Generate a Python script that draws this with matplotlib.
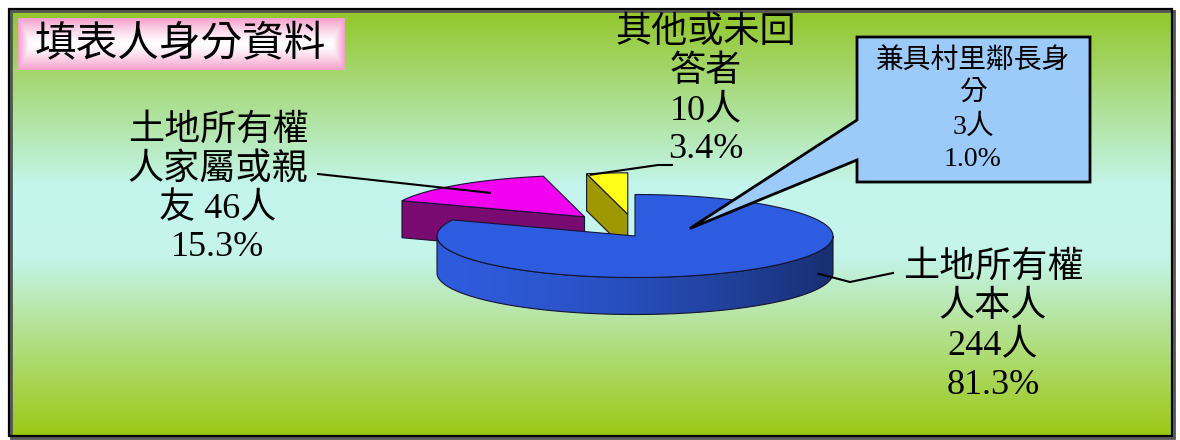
import numpy as np
import matplotlib.pyplot as plt
from matplotlib.patches import Polygon, Rectangle
from matplotlib.colors import to_rgb

# respondent identity
categories = ['土地所有權人本人', '土地所有權人家屬或親友', '其他或未回答者']
counts = [244, 46, 10]
pct_text = ['81.3%', '15.3%', '3.4%']
sub_name = '兼具村里鄰長身分'
sub_count = 3
sub_pct = '1.0%'

top_colors = ['#2E5CE0', '#F200F0', '#FFFF18']
side_colors = ['#2E5AD8', '#780A70', '#A09800']
explode = [0.0, 0.4, 0.35]

plt.rcParams['font.family'] = ['Liberation Serif', 'Noto Sans CJK TC']
plt.rcParams['font.weight'] = 'light'

fig = plt.figure(figsize=(11.8, 4.4), dpi=100)
ax = fig.add_axes([0, 0, 1, 1])
ax.set_xlim(0, 1180)
ax.set_ylim(440, 0)
ax.axis('off')


def vgrad(stops, n=300):
    t = np.linspace(0, 1, n)
    pos = [s[0] for s in stops]
    cols = np.array([to_rgb(s[1]) for s in stops])
    return np.stack([np.interp(t, pos, cols[:, k]) for k in range(3)], axis=-1)


# panel background
bg = vgrad([(0.0, '#92C628'), (0.42, '#C4F6EE'), (0.58, '#C4F4EA'), (1.0, '#9CC814')])
ax.imshow(bg[:, None, :], extent=(9, 1172, 436, 9), aspect='auto', zorder=0)
ax.add_patch(Rectangle((11, 11), 1163, 427, fill=False, ec='#555555', lw=2, zorder=1))
ax.add_patch(Rectangle((9, 9), 1163, 427, fill=False, ec='black', lw=1.6, zorder=1))

# title box with pink edges
ny, nx = 60, 340
yy = np.abs(np.linspace(-1, 1, ny))[:, None]
xx = np.abs(np.linspace(-1, 1, nx))[None, :]
w = np.clip(np.maximum(yy ** 1.3, (xx - 0.93) / 0.07), 0, 1)
pink = np.array(to_rgb('#F5A0CC'))
box = (1 - w[..., None]) * 1.0 + w[..., None] * pink
ax.imshow(box, extent=(18, 345, 70, 18), aspect='auto', zorder=1)
ax.text(180, 46, '填表人身分資料', fontsize=30, ha='center', va='center', zorder=5)

# 3D pie
CX, CY = 635, 236
RX, RY = 198, 41.5
DEPTH = 37
EC = '#141430'

fr = np.array(counts) / sum(counts)
ends = 90 - 360 * np.concatenate([[0], np.cumsum(fr)[:-1]])
starts = ends - 360 * fr


def pt(theta, c, r=1.0, dz=0.0):
    t = np.radians(theta)
    return c[0] + r * RX * np.cos(t), c[1] - r * RY * np.sin(t) + dz


def arc(a0, a1, c, dz=0.0, n=120):
    th = np.linspace(a0, a1, n)
    x, y = pt(th, c, dz=dz)
    return np.column_stack([x, y])


centers = []
for i in range(len(counts)):
    mid = np.radians((starts[i] + ends[i]) / 2)
    e = explode[i]
    centers.append((CX + e * RX * np.cos(mid), CY - 1.5 * e * RY * np.sin(mid)))

for i in reversed(range(len(counts))):
    a0, a1, c = starts[i], ends[i], centers[i]
    z = 10 + 3 * (len(counts) - 1 - i)
    # radial faces turned toward the viewer
    for a, vis in ((a0, np.cos(np.radians(a0)) > 1e-6), (a1, np.cos(np.radians(a1)) < -1e-6)):
        if vis:
            p = pt(a, c)
            quad = [c, p, (p[0], p[1] + DEPTH), (c[0], c[1] + DEPTH)]
            ax.add_patch(Polygon(quad, closed=True, fc=side_colors[i], ec=EC, lw=0.8, zorder=z))
    # outer rim, front half only
    for k in (-1, 0, 1):
        lo, hi = max(a0, -180 + 360 * k), min(a1, 360 * k)
        if hi - lo <= 0:
            continue
        top = arc(lo, hi, c)
        bot = arc(lo, hi, c, dz=DEPTH)[::-1]
        rim = Polygon(np.vstack([top, bot]), closed=True, fc='none', ec=EC, lw=0.8, zorder=z + 1)
        ax.add_patch(rim)
        base = np.array(to_rgb(side_colors[i]))
        t = np.linspace(0, 1, 200) ** 1.6
        shade = np.clip(base[None, :] * (1.02 - 0.5 * t[:, None]), 0, 1)
        x0, x1 = top[:, 0].min(), top[:, 0].max()
        im = ax.imshow(shade[None, :, :], extent=(x0, x1, c[1] + RY + DEPTH + 2, c[1] - RY),
                       aspect='auto', zorder=z)
        im.set_clip_path(rim)
    face = np.vstack([[c], arc(a0, a1, c)])
    ax.add_patch(Polygon(face, closed=True, fc=top_colors[i], ec=EC, lw=0.8, zorder=z + 2))

ax.set_xlim(0, 1180)
ax.set_ylim(440, 0)

# labels
FS = 26
LH = 39


def block(x, y0, lines, fs=FS, lh=LH):
    for j, s in enumerate(lines):
        ax.text(x, y0 + j * lh, s, fontsize=fs, ha='center', va='center', zorder=20)


block(218, 131, ['土地所有權', '人家屬或親', f'友 {counts[1]}人', pct_text[1]])
block(706, 33, ['其他或未回', '答者', f'{counts[2]}人', pct_text[2]])
block(993, 268, ['土地所有權', '人本人', f'{counts[0]}人', pct_text[0]])

# leader lines
mag = pt((starts[1] + ends[1]) / 2, centers[1], r=0.75)
ax.plot([318, mag[0]], [174, mag[1]], color='black', lw=1.5, zorder=21)
yel = pt(ends[2], centers[2])
ax.plot([yel[0] + 4, 658, 672], [yel[1] + 1, 165, 165], color='black', lw=1.5, zorder=21)
blu = pt(-22, centers[0], dz=DEPTH * 0.6)
ax.plot([blu[0], 850, 893], [blu[1], 282, 273], color='black', lw=1.5, zorder=21)

# callout for the village-chief subgroup
tip = pt(33, centers[0], r=0.33)
callout = [(857, 37), (1090, 37), (1090, 182), (857, 182), (857, 160), tip, (857, 120)]
ax.add_patch(Polygon(callout, closed=True, fc='#9CCBFA', ec='black', lw=2, zorder=18))
block(973, 61, [sub_name[:7], sub_name[7:], f'{sub_count}人', sub_pct], fs=20, lh=33)

fig.savefig('out.png', dpi=100, facecolor='white')
